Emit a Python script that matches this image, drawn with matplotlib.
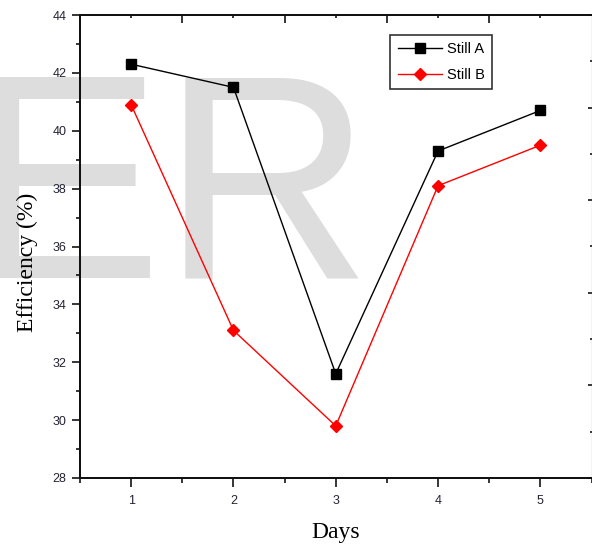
import matplotlib
matplotlib.use('Agg')
import matplotlib.pyplot as plt
from matplotlib.ticker import MultipleLocator, NullFormatter

# data
days = [1, 2, 3, 4, 5]
still_a = [42.3, 41.5, 31.6, 39.3, 40.7]
still_b = [40.9, 33.1, 29.8, 38.1, 39.5]
y_ticks = [28, 30, 32, 34, 36, 38, 40, 42, 44]

fig = plt.figure(figsize=(5.92, 5.47), dpi=100)
ax = fig.add_axes([80 / 592, 69 / 547, 511.5 / 592, 463 / 547])
ax.patch.set_visible(False)

# watermark behind everything
fig.text(-33 / 592, (547 - 278) / 547, 'ER', fontsize=210, color='#dddddd',
         family='Liberation Sans', ha='left', va='baseline', zorder=-5)

ax.plot(days, still_a, color='black', lw=1.0, marker='s', ms=7,
        label='Still A', zorder=3)
ax.plot(days, still_b, color='red', lw=1.0, marker='D', ms=6.5,
        label='Still B', zorder=3)

ax.set_xlim(0.5, 5.5)
ax.set_ylim(28, 44)
ax.set_xticks(days)
ax.set_yticks(y_ticks)
ax.xaxis.set_minor_locator(MultipleLocator(0.5))
ax.yaxis.set_minor_locator(MultipleLocator(1))

for lab in ax.get_xticklabels() + ax.get_yticklabels():
    lab.set_fontfamily('Liberation Sans')
    lab.set_fontsize(9)
    lab.set_color('#222233')

ax.tick_params(axis='y', which='major', direction='out', length=5.8, width=1.1, pad=4.0)
ax.tick_params(axis='y', which='minor', direction='out', length=3, width=1.1)
ax.tick_params(axis='x', which='major', direction='out', length=6.5, width=1.1, pad=5.5)
ax.tick_params(axis='x', which='minor', direction='out', length=3.6, width=1.1)

# top ticks: short at integers, long at halves (inward)
axt = ax.twiny()
axt.set_xlim(ax.get_xlim())
axt.set_xticks([1.5, 2.5, 3.5, 4.5])
axt.xaxis.set_minor_locator(MultipleLocator(1))
axt.xaxis.set_major_formatter(NullFormatter())
axt.tick_params(axis='x', which='major', direction='in', length=6, width=1.1)
axt.tick_params(axis='x', which='minor', direction='in', length=1.8, width=1.1)

# right ticks: ten divisions, alternating
axr = ax.twinx()
axr.set_ylim(0, 10)
axr.set_yticks([0, 2, 4, 6, 8, 10])
axr.yaxis.set_minor_locator(MultipleLocator(1))
axr.yaxis.set_major_formatter(NullFormatter())
axr.tick_params(axis='y', which='major', direction='in', length=3.2, width=1.1)
axr.tick_params(axis='y', which='minor', direction='in', length=1.2, width=1.1)

for a in (ax, axt, axr):
    for side in ('left', 'bottom', 'top'):
        a.spines[side].set_color('#111111')
        a.spines[side].set_linewidth(1.2)
    a.spines['right'].set_color('#c0c0c0')
    a.spines['right'].set_linewidth(0.8)

ax.set_xlabel('Days', family='Liberation Serif', fontsize=17)
ax.set_ylabel('Efficiency (%)', family='Liberation Serif', fontsize=17)
ax.xaxis.set_label_coords(0.5, -0.095)
ax.yaxis.set_label_coords(-0.083, 0.465)

leg = ax.legend(loc='upper left', bbox_to_anchor=(0.607, 0.957), borderaxespad=0,
                frameon=True, fancybox=False, edgecolor='black', numpoints=1,
                handlelength=3.0, handletextpad=0.35, labelspacing=0.8,
                borderpad=0.5, prop={'family': 'Liberation Sans', 'size': 10.5})
leg.get_frame().set_linewidth(1.2)
leg.set_zorder(10)

fig.savefig('out.png', dpi=100)
